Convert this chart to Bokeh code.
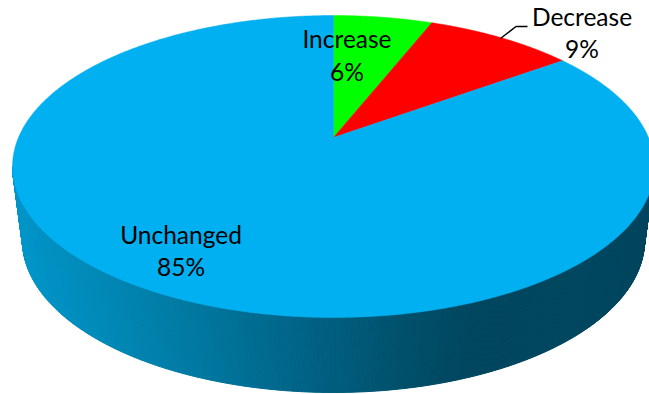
import numpy as np
from bokeh.embed import file_html
from bokeh.models import Range1d
from bokeh.plotting import figure
from bokeh.resources import INLINE
from bokeh.core.properties import value

# Pie content
categories = ["Increase", "Decrease", "Unchanged"]
shares = [6, 9, 85]
colors = ["#00FF00", "#FF0000", "#00B0F0"]

# Label placement (centre x, name line y, percent line y)
label_x = [346.5, 581.5, 180.5]
name_y = [38, 16, 234]
percent_y = [71, 48, 266]

# Leader line running from the red slice to its label
leader_x = [500, 515.5, 527]
leader_y = [38, 26, 26]

# Perspective projection of the unit disc onto the top face
APEX_X, APEX_Y = 333, 137
TOP_Y, FRONT_Y = 15, 317
SPREAD_X = 315

# Lower rim of the side wall
RIM_X, RIM_Y, RIM_RX, RIM_RY = 333, 240, 311, 152

# Side wall shading: x position to colour stops
shade_x = [12, 110, 200, 330, 400, 470, 654]
shade_g = [152, 136, 120, 94, 81, 70, 70]
shade_b = [204, 182, 160, 128, 108, 95, 95]

# Solve y = (APEX_Y + b v) / (1 + c v) for v = +1 -> TOP_Y and v = -1 -> FRONT_Y
c = (TOP_Y + FRONT_Y - 2 * APEX_Y) / (FRONT_Y - TOP_Y)
b = TOP_Y * (1 + c) - APEX_Y


def project(theta):
    """Map a clockwise angle measured from 12 o'clock to page coordinates."""
    u, v = np.sin(theta), np.cos(theta)
    w = 1 + c * v
    return APEX_X + SPREAD_X * u / w, (APEX_Y + b * v) / w


p = figure(
    width=649,
    height=394,
    output_backend="svg",
    toolbar_location=None,
    x_range=Range1d(0, 649),
    y_range=Range1d(394, 0),
    min_border=0,
    outline_line_color=None,
    background_fill_color="white",
    border_fill_color="white",
)
p.axis.visible = False
p.grid.visible = False

# Side wall: thin quads between the top rim and the lower rim, tinted by x
start = 2 * np.pi - np.arccos(-c)   # left silhouette point of the top face
stop = np.arccos(-c)                # right silhouette point of the top face
thetas = np.linspace(start, stop, 420)
top_x, top_y = project(thetas)
frac = (thetas - stop) / (start - stop)
# Same sweep on the lower rim, from its left extreme to its right extreme
rim_phi = np.pi * frac
rim_x = RIM_X + RIM_RX * np.cos(rim_phi)
rim_y = RIM_Y + RIM_RY * np.sin(rim_phi)
xs, ys, fills = [], [], []
for i in range(len(thetas) - 1):
    xs.append([top_x[i], top_x[i + 1], rim_x[i + 1], rim_x[i]])
    ys.append([top_y[i], top_y[i + 1], rim_y[i + 1], rim_y[i]])
    mid = 0.25 * sum(xs[-1])
    g = np.interp(mid, shade_x, shade_g)
    bl = np.interp(mid, shade_x, shade_b)
    fills.append("#%02x%02x%02x" % (0, int(g), int(bl)))
p.patches(xs, ys, fill_color=fills, line_color=fills, line_width=1)

# Top face slices, clockwise from 12 o'clock
edges = np.cumsum([0] + shares) / sum(shares) * 2 * np.pi
for a0, a1, color in zip(edges[:-1], edges[1:], colors):
    arc = np.linspace(a0, a1, max(8, int((a1 - a0) * 140)))
    ax, ay = project(arc)
    p.patch(
        np.r_[APEX_X, ax],
        np.r_[APEX_Y, ay],
        fill_color=color,
        line_color=color,
        line_width=0.5,
    )

# Labels
font = value("Lato")
for ys_, texts in ((name_y, categories), (percent_y, [f"{s}%" for s in shares])):
    p.text(
        x=label_x,
        y=ys_,
        text=texts,
        text_font=font,
        text_font_size="24.5px",
        text_color="#000000",
        text_align="center",
        text_baseline="middle",
    )

p.line(leader_x, leader_y, line_color="#000000", line_width=1.5)

open("out.html", "w").write(file_html(p, INLINE))
